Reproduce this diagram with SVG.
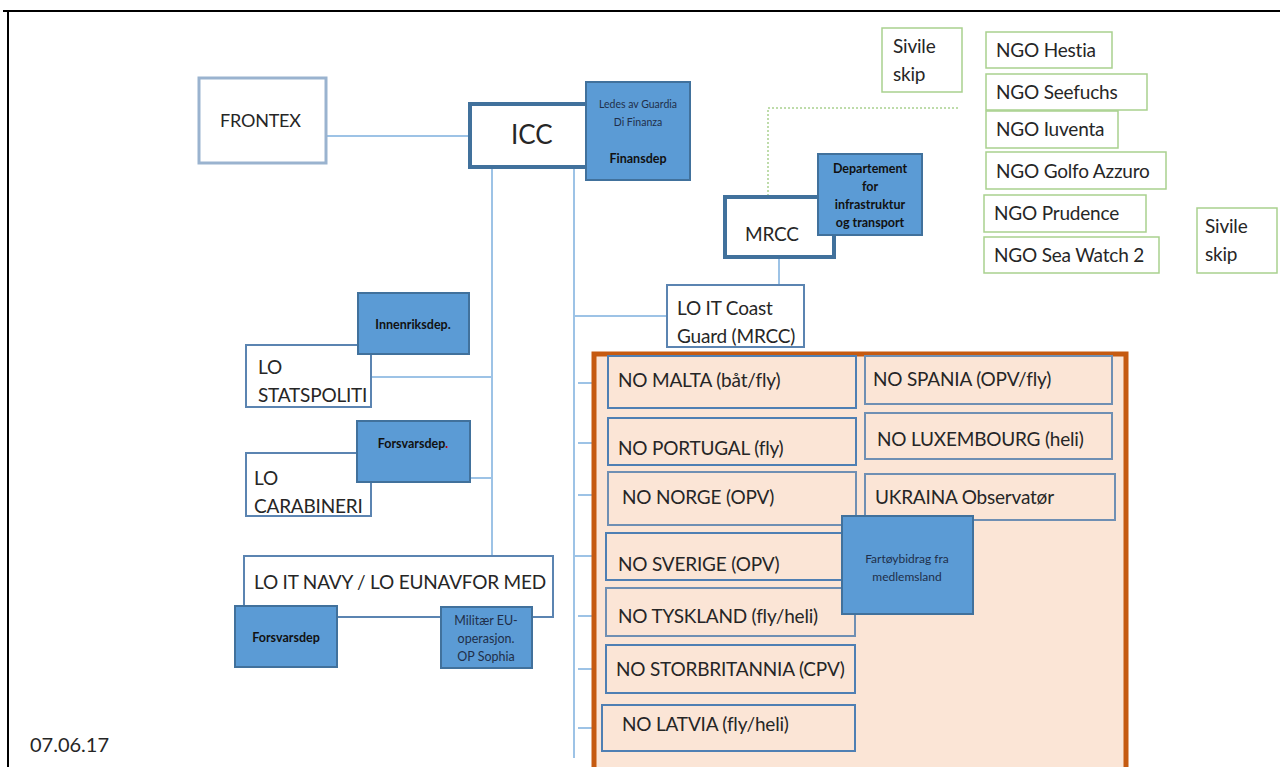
<svg xmlns="http://www.w3.org/2000/svg" width="1280" height="767" viewBox="0 0 1280 767">
<style>
text{font-family:Lato,"Open Sans","Liberation Sans",sans-serif;fill:#262626}
.lbl{font-size:19px;letter-spacing:-0.2px}
.sm{font-size:10.5px;fill:#1f2f4a}
.b{font-size:12.5px;font-weight:bold;fill:#111}
.box{fill:#fff;stroke:#5b84b1;stroke-width:2}
.thick{fill:#fff;stroke:#41719c;stroke-width:4}
.dep{fill:#5b9bd5;stroke:#41719c;stroke-width:2}
.ngo{fill:#fff;stroke:#a9d18e;stroke-width:1.5}
.no{fill:#fbe5d6;stroke:#6f8fb3;stroke-width:2}
.con{stroke:#9dc3e6;stroke-width:2;fill:none}
</style>
<rect x="0" y="0" width="1280" height="767" fill="#fff"/>
<path d="M3 11 H1280 M8 11 V767" stroke="#000" stroke-width="2" fill="none"/>
<g id="connectors">
<path class="con" d="M326 136 H469"/>
<path class="con" d="M492 167 V556"/>
<path class="con" d="M574 167 V758"/>
<path class="con" d="M372 377 H492"/>
<path class="con" d="M470 478 H492"/>
<path class="con" d="M575 316 H667"/>
<path class="con" d="M779 257 V285"/>
<path class="con" d="M578 383 H608 M578 443 H608 M578 495 H608 M574 556 H606 M578 616 H606 M578 669 H606 M578 728 H602"/>
<path d="M768 196 V108 H958" stroke="#a9d18e" stroke-width="1.5" stroke-dasharray="2 2" fill="none"/>
<path d="M337 617 H441" stroke="#7f9fc2" stroke-width="2"/>
</g>
<g id="frontex"><rect class="box" x="199" y="78" width="127" height="85" style="stroke:#9ab3cf;stroke-width:3"/><text class="lbl" x="220" y="127" style="font-size:18px">FRONTEX</text></g>
<g id="icc"><rect class="thick" x="470" y="104" width="120" height="63"/><text x="511" y="144" style="font-size:26px">ICC</text></g>
<g id="finansdep"><rect class="dep" x="586" y="82" width="104" height="98"/><text class="sm" text-anchor="middle" x="638" y="108">Ledes av Guardia</text><text class="sm" text-anchor="middle" x="638" y="126">Di Finanza</text><text class="b" text-anchor="middle" x="638" y="163">Finansdep</text></g>
<g id="mrcc"><rect class="thick" x="725" y="197" width="109" height="60"/><text class="lbl" x="745" y="241">MRCC</text></g>
<g id="samferdsel"><rect class="dep" x="818" y="154" width="104" height="81"/><text class="b" text-anchor="middle" x="870" y="173">Departement</text><text class="b" text-anchor="middle" x="870" y="191">for</text><text class="b" text-anchor="middle" x="870" y="209">infrastruktur</text><text class="b" text-anchor="middle" x="870" y="227">og transport</text></g>
<g id="sivile1"><rect class="ngo" x="882" y="28" width="80" height="64"/><text class="lbl" x="893" y="53">Sivile</text><text class="lbl" x="893" y="81">skip</text></g>
<g id="ngo-hestia"><rect class="ngo" x="986" y="32" width="126" height="36"/><text class="lbl" x="996" y="57">NGO Hestia</text></g>
<g id="ngo-seefuchs"><rect class="ngo" x="986" y="74" width="161" height="36"/><text class="lbl" x="996" y="99">NGO Seefuchs</text></g>
<g id="ngo-iuventa"><rect class="ngo" x="986" y="111" width="132" height="37"/><text class="lbl" x="996" y="136">NGO Iuventa</text></g>
<g id="ngo-golfo"><rect class="ngo" x="986" y="152" width="180" height="37"/><text class="lbl" x="996" y="178">NGO Golfo Azzuro</text></g>
<g id="ngo-prudence"><rect class="ngo" x="984" y="195" width="162" height="37"/><text class="lbl" x="994" y="220">NGO Prudence</text></g>
<g id="ngo-seawatch"><rect class="ngo" x="984" y="237" width="175" height="36"/><text class="lbl" x="994" y="262">NGO Sea Watch 2</text></g>
<g id="sivile2"><rect class="ngo" x="1197" y="208" width="80" height="65"/><text class="lbl" x="1205" y="233">Sivile</text><text class="lbl" x="1205" y="261">skip</text></g>
<g id="coastguard"><rect class="box" x="667" y="285" width="137" height="62"/><text class="lbl" x="677" y="315">LO IT Coast</text><text class="lbl" x="677" y="343">Guard (MRCC)</text></g>
<g id="statspoliti"><rect class="box" x="246" y="345" width="125" height="62"/><text class="lbl" x="258" y="374">LO</text><text class="lbl" x="258" y="402">STATSPOLITI</text></g>
<g id="innenriksdep"><rect class="dep" x="358" y="293" width="111" height="61"/><text class="b" text-anchor="middle" x="413" y="329">Innenriksdep.</text></g>
<g id="carabineri"><rect class="box" x="246" y="453" width="125" height="63"/><text class="lbl" x="254" y="485">LO</text><text class="lbl" x="254" y="513">CARABINERI</text></g>
<g id="forsvarsdep1"><rect class="dep" x="357" y="421" width="113" height="61"/><text class="b" text-anchor="middle" x="413" y="448">Forsvarsdep<tspan style="fill:#c00000">.</tspan></text></g>
<g id="navy"><rect class="box" x="244" y="556" width="309" height="61"/><text class="lbl" x="254" y="589">LO IT NAVY / LO EUNAVFOR MED</text></g>
<g id="forsvarsdep2"><rect class="dep" x="235" y="606" width="102" height="61"/><text class="b" text-anchor="middle" x="286" y="642">Forsvarsdep</text></g>
<g id="sophia"><rect class="dep" x="441" y="607" width="91" height="61"/><text class="sm" text-anchor="middle" x="486" y="625" style="font-size:12.5px">Militær EU-</text><text class="sm" text-anchor="middle" x="486" y="643" style="font-size:12.5px">operasjon.</text><text class="sm" text-anchor="middle" x="486" y="661" style="font-size:12.5px">OP Sophia</text></g>
<g id="members">
<rect x="594" y="354" width="532" height="420" fill="#fbe5d6" stroke="#c55a11" stroke-width="5"/>
</g>
<g id="malta"><rect class="no" x="608" y="356" width="248" height="52" style="stroke:#4f7fb3"/><text class="lbl" x="618" y="387">NO MALTA (båt/fly)</text></g>
<g id="spania"><rect class="no" x="865" y="356" width="247" height="48"/><text class="lbl" x="873" y="386">NO SPANIA (OPV/fly)</text></g>
<g id="portugal"><rect class="no" x="608" y="418" width="248" height="47" style="stroke:#4f7fb3"/><text class="lbl" x="618" y="455">NO PORTUGAL (fly)</text></g>
<g id="luxembourg"><rect class="no" x="865" y="413" width="247" height="46"/><text class="lbl" x="877" y="446">NO LUXEMBOURG (heli)</text></g>
<g id="norge"><rect class="no" x="608" y="472" width="248" height="53"/><text class="lbl" x="622" y="504">NO NORGE (OPV)</text></g>
<g id="ukraina"><rect class="no" x="865" y="474" width="250" height="46"/><text class="lbl" x="875" y="504">UKRAINA Observatør</text></g>
<g id="sverige"><rect class="no" x="606" y="533" width="246" height="47" style="stroke:#4f7fb3"/><text class="lbl" x="618" y="571">NO SVERIGE (OPV)</text></g>
<g id="tyskland"><rect class="no" x="606" y="588" width="249" height="48"/><text class="lbl" x="618" y="623">NO TYSKLAND (fly/heli)</text></g>
<g id="storbritannia"><rect class="no" x="606" y="645" width="249" height="48" style="stroke:#4f7fb3"/><text class="lbl" x="616" y="676">NO STORBRITANNIA (CPV)</text></g>
<g id="latvia"><rect class="no" x="602" y="705" width="253" height="46" style="stroke:#4f7fb3"/><text class="lbl" x="622" y="731">NO LATVIA (fly/heli)</text></g>
<g id="fartoy"><rect class="dep" x="842" y="516" width="131" height="98"/><text class="sm" text-anchor="middle" x="907" y="563" style="font-size:12px">Fartøybidrag fra</text><text class="sm" text-anchor="middle" x="907" y="581" style="font-size:12px">medlemsland</text></g>
<g id="date"><text x="30" y="752" style="font-size:20px">07.06.17</text></g>
</svg>
